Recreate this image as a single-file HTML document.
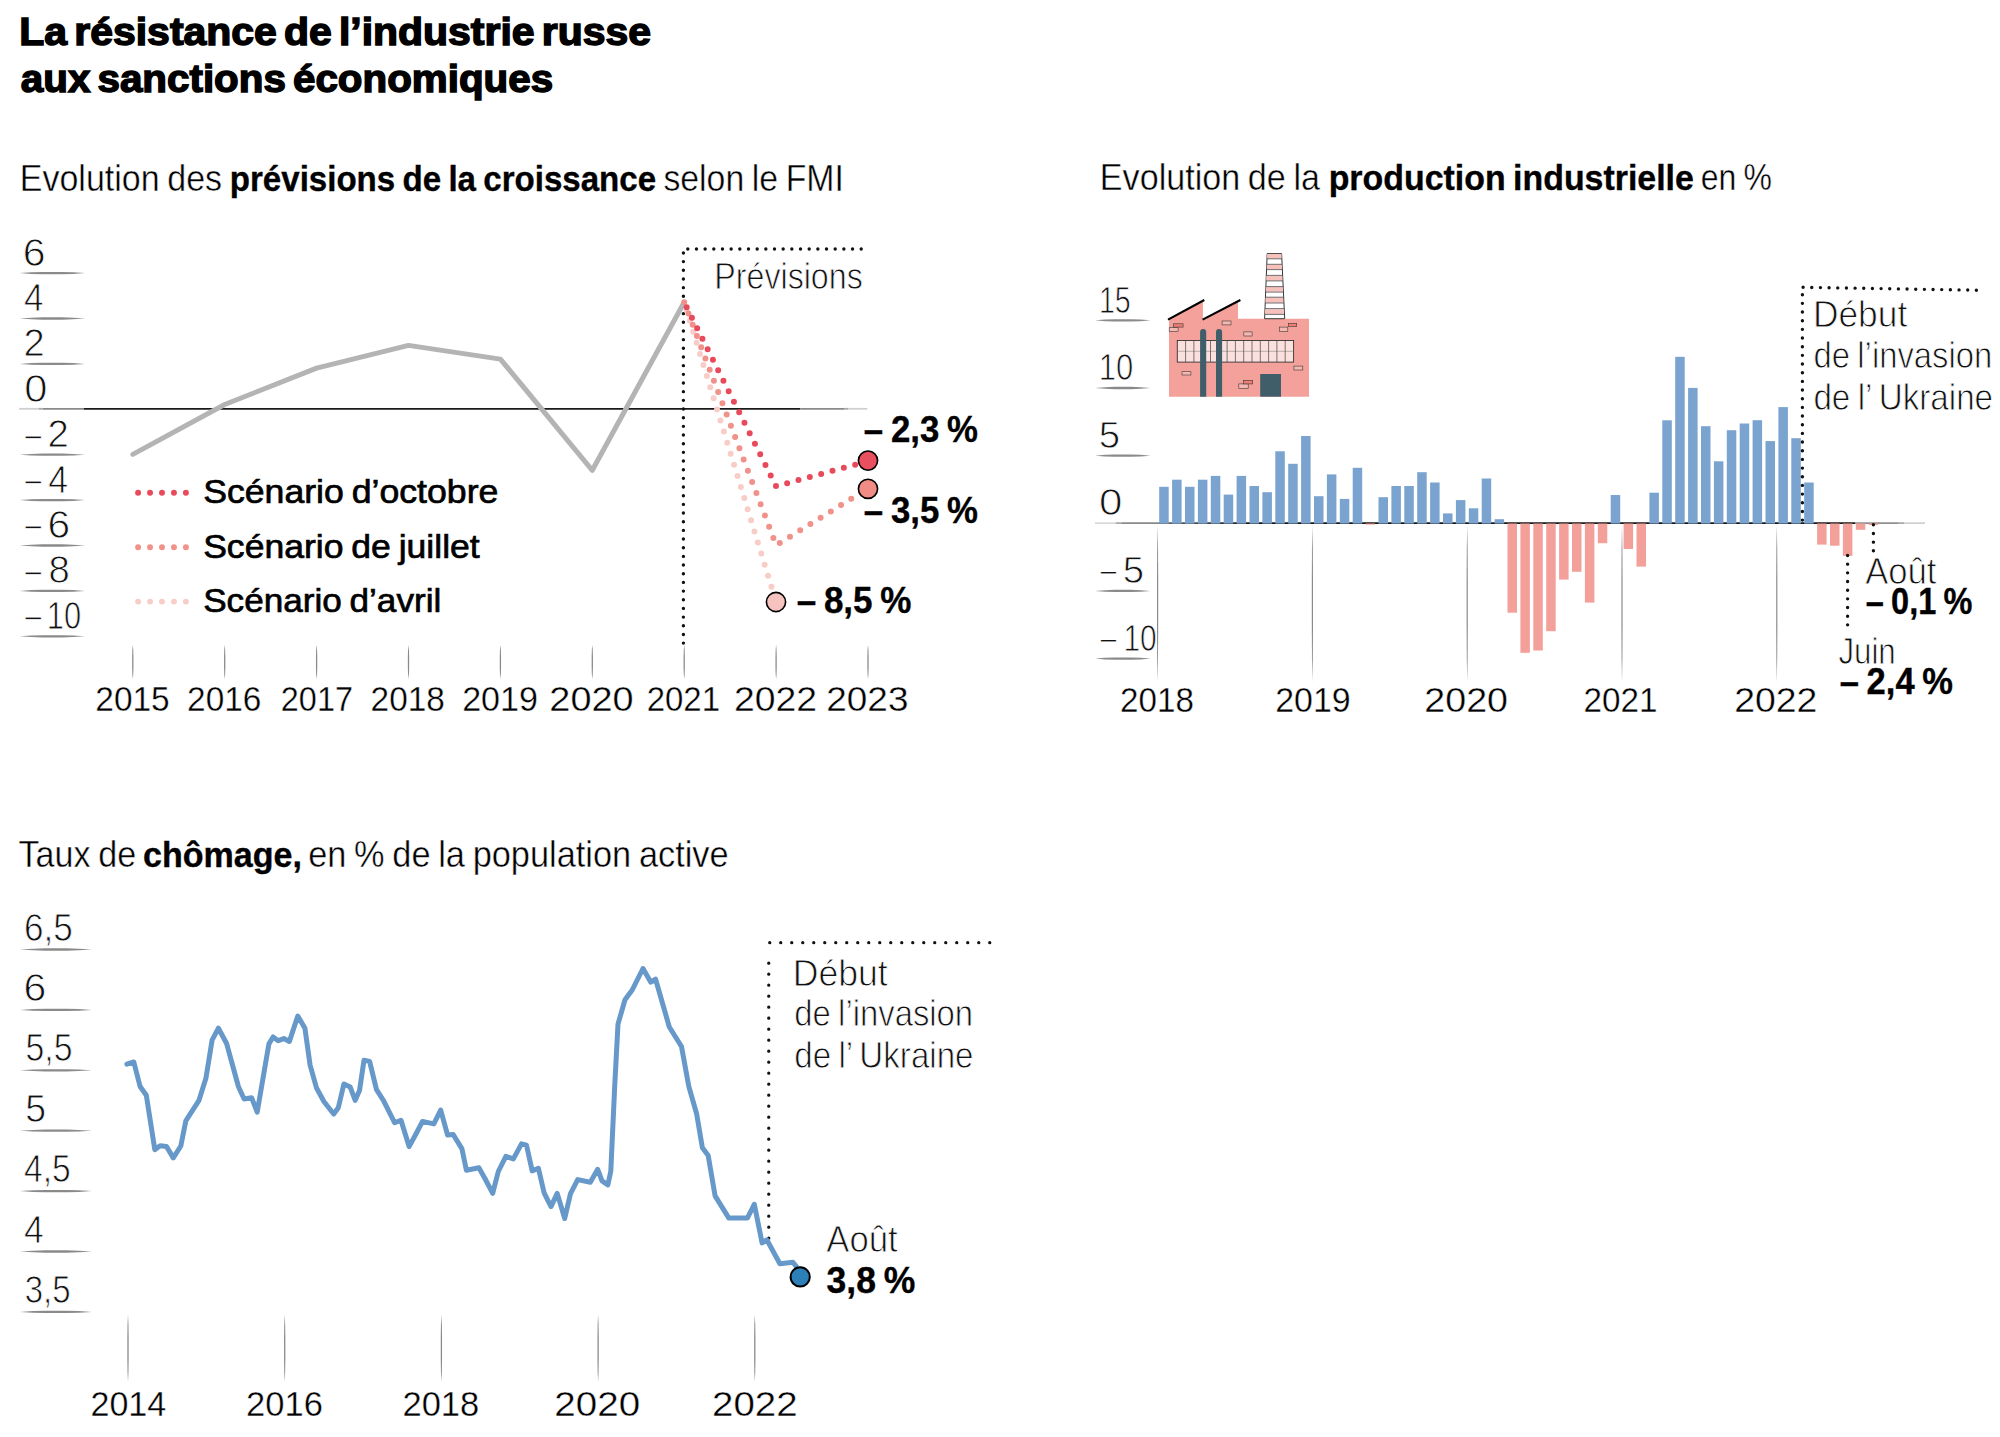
<!DOCTYPE html>
<html lang="fr"><head><meta charset="utf-8"><title>La résistance de l’industrie russe aux sanctions économiques</title>
<style>html,body{margin:0;padding:0;background:#fff;overflow:hidden;}svg{display:block;}text{font-kerning:normal;}</style></head>
<body><svg width="2000" height="1437" viewBox="0 0 2000 1437">
<rect width="2000" height="1437" fill="#fff"/>
<defs>
<linearGradient id="zg2" gradientUnits="userSpaceOnUse" x1="1159" y1="0" x2="1250" y2="0"><stop offset="0" stop-color="#6a6a6a"/><stop offset="1" stop-color="#1a1a1a"/></linearGradient>
<linearGradient id="z1" gradientUnits="userSpaceOnUse" x1="19" y1="0" x2="868" y2="0">
<stop offset="0" stop-color="#bbb"/><stop offset="0.03" stop-color="#999"/><stop offset="0.06" stop-color="#333"/><stop offset="0.1" stop-color="#111"/>
<stop offset="0.88" stop-color="#111"/><stop offset="0.93" stop-color="#666"/><stop offset="1" stop-color="#ccc"/></linearGradient>
<linearGradient id="z2" gradientUnits="userSpaceOnUse" x1="1095" y1="0" x2="1926" y2="0">
<stop offset="0" stop-color="#bbb"/><stop offset="0.05" stop-color="#888"/><stop offset="0.08" stop-color="#333"/><stop offset="0.1" stop-color="#111"/>
<stop offset="0.86" stop-color="#111"/><stop offset="0.92" stop-color="#777"/><stop offset="1" stop-color="#ccc"/></linearGradient>
</defs>
<path d="M19.5,273.10 L31.3,272.30 L42.4,271.95 L62.1,271.95 L73.2,272.30 L85.0,273.10 L73.2,273.91 L62.1,274.25 L42.4,274.25 L31.3,273.91 Z" fill="#8a8a8a"/>
<path d="M19.5,318.50 L31.3,317.69 L42.4,317.35 L62.1,317.35 L73.2,317.69 L85.0,318.50 L73.2,319.31 L62.1,319.65 L42.4,319.65 L31.3,319.31 Z" fill="#8a8a8a"/>
<path d="M19.5,363.90 L31.3,363.10 L42.4,362.75 L62.1,362.75 L73.2,363.10 L85.0,363.90 L73.2,364.71 L62.1,365.05 L42.4,365.05 L31.3,364.71 Z" fill="#8a8a8a"/>
<path d="M19.5,454.70 L31.3,453.89 L42.4,453.55 L62.1,453.55 L73.2,453.89 L85.0,454.70 L73.2,455.50 L62.1,455.85 L42.4,455.85 L31.3,455.50 Z" fill="#8a8a8a"/>
<path d="M19.5,500.10 L31.3,499.30 L42.4,498.95 L62.1,498.95 L73.2,499.30 L85.0,500.10 L73.2,500.91 L62.1,501.25 L42.4,501.25 L31.3,500.91 Z" fill="#8a8a8a"/>
<path d="M19.5,545.50 L31.3,544.70 L42.4,544.35 L62.1,544.35 L73.2,544.70 L85.0,545.50 L73.2,546.30 L62.1,546.65 L42.4,546.65 L31.3,546.30 Z" fill="#8a8a8a"/>
<path d="M19.5,590.90 L31.3,590.10 L42.4,589.75 L62.1,589.75 L73.2,590.10 L85.0,590.90 L73.2,591.70 L62.1,592.05 L42.4,592.05 L31.3,591.70 Z" fill="#8a8a8a"/>
<path d="M19.5,636.30 L31.3,635.50 L42.4,635.15 L62.1,635.15 L73.2,635.50 L85.0,636.30 L73.2,637.10 L62.1,637.45 L42.4,637.45 L31.3,637.10 Z" fill="#8a8a8a"/>
<line x1="19.2" y1="408.8" x2="39" y2="408.8" stroke="#cfcfcf" stroke-width="1.8"/>
<line x1="39" y1="408.8" x2="42.6" y2="408.8" stroke="#aaa" stroke-width="1.8"/>
<line x1="42.6" y1="408.8" x2="84" y2="408.8" stroke="#8a8a8a" stroke-width="1.8"/>
<line x1="84" y1="408.8" x2="800.2" y2="408.8" stroke="#1a1a1a" stroke-width="1.8"/>
<line x1="800.2" y1="408.8" x2="844" y2="408.8" stroke="#8a8a8a" stroke-width="1.8"/>
<line x1="844" y1="408.8" x2="848" y2="408.8" stroke="#aaa" stroke-width="1.8"/>
<line x1="848" y1="408.8" x2="867.4" y2="408.8" stroke="#d0d0d0" stroke-width="1.8"/>
<path d="M132.80,644.8 L132.34,650.0 L132.15,656.9 L132.15,667.2 L132.34,674.1 L132.80,679.3 L133.26,674.1 L133.45,667.2 L133.45,656.9 L133.26,650.0 Z" fill="#8a8a8a"/>
<path d="M224.70,644.8 L224.25,650.0 L224.05,656.9 L224.05,667.2 L224.25,674.1 L224.70,679.3 L225.16,674.1 L225.35,667.2 L225.35,656.9 L225.16,650.0 Z" fill="#8a8a8a"/>
<path d="M316.60,644.8 L316.15,650.0 L315.95,656.9 L315.95,667.2 L316.15,674.1 L316.60,679.3 L317.06,674.1 L317.25,667.2 L317.25,656.9 L317.06,650.0 Z" fill="#8a8a8a"/>
<path d="M408.50,644.8 L408.05,650.0 L407.85,656.9 L407.85,667.2 L408.05,674.1 L408.50,679.3 L408.96,674.1 L409.15,667.2 L409.15,656.9 L408.96,650.0 Z" fill="#8a8a8a"/>
<path d="M500.40,644.8 L499.95,650.0 L499.75,656.9 L499.75,667.2 L499.95,674.1 L500.40,679.3 L500.86,674.1 L501.05,667.2 L501.05,656.9 L500.86,650.0 Z" fill="#8a8a8a"/>
<path d="M592.30,644.8 L591.84,650.0 L591.65,656.9 L591.65,667.2 L591.84,674.1 L592.30,679.3 L592.75,674.1 L592.95,667.2 L592.95,656.9 L592.75,650.0 Z" fill="#8a8a8a"/>
<path d="M684.20,644.8 L683.75,650.0 L683.55,656.9 L683.55,667.2 L683.75,674.1 L684.20,679.3 L684.66,674.1 L684.85,667.2 L684.85,656.9 L684.66,650.0 Z" fill="#8a8a8a"/>
<path d="M776.10,644.8 L775.65,650.0 L775.45,656.9 L775.45,667.2 L775.65,674.1 L776.10,679.3 L776.56,674.1 L776.75,667.2 L776.75,656.9 L776.56,650.0 Z" fill="#8a8a8a"/>
<path d="M868.00,644.8 L867.54,650.0 L867.35,656.9 L867.35,667.2 L867.54,674.1 L868.00,679.3 L868.46,674.1 L868.65,667.2 L868.65,656.9 L868.46,650.0 Z" fill="#8a8a8a"/>
<path d="M683.40,643.10 L683.40,252.80" fill="none" stroke="#111" stroke-width="3.4" stroke-linecap="round" stroke-dasharray="0 8.67" stroke-dashoffset="0"/>
<path d="M687.80,249.00 L861.60,249.00" fill="none" stroke="#111" stroke-width="3.4" stroke-linecap="round" stroke-dasharray="0 8.67" stroke-dashoffset="0"/>
<polyline points="132.8,454.4 224.7,404.5 316.6,368.1 408.5,345.4 500.4,359.1 592.3,470.3 684.2,302.3" fill="none" stroke="#b4b4b4" stroke-width="5" stroke-linejoin="round" stroke-linecap="round"/>
<path d="M684.20,302.31 L776.10,601.95" fill="none" stroke="#f8cdc8" stroke-width="6.0" stroke-linecap="round" stroke-dasharray="0 11.6" stroke-dashoffset="-7.6"/>
<path d="M684.20,302.31 L776.10,545.20 L868.00,488.45" fill="none" stroke="#f0918a" stroke-width="6.0" stroke-linecap="round" stroke-dasharray="0 12.0" stroke-dashoffset="0"/>
<path d="M684.20,302.31 L776.10,486.18 L868.00,461.21" fill="none" stroke="#e84a5c" stroke-width="6.0" stroke-linecap="round" stroke-dasharray="0 11.75" stroke-dashoffset="-5.5"/>
<circle cx="868" cy="460.6" r="9.6" fill="#e8505f" stroke="#000" stroke-width="1.6"/>
<circle cx="868" cy="488.8" r="9.6" fill="#f08c84" stroke="#000" stroke-width="1.6"/>
<circle cx="776" cy="602" r="9.6" fill="#f7c3be" stroke="#000" stroke-width="1.6"/>
<circle cx="138.10" cy="492.8" r="2.95" fill="#e84a5c"/>
<circle cx="150.05" cy="492.8" r="2.95" fill="#e84a5c"/>
<circle cx="162.00" cy="492.8" r="2.95" fill="#e84a5c"/>
<circle cx="173.95" cy="492.8" r="2.95" fill="#e84a5c"/>
<circle cx="185.90" cy="492.8" r="2.95" fill="#e84a5c"/>
<circle cx="138.10" cy="547.2" r="2.95" fill="#f0918a"/>
<circle cx="150.05" cy="547.2" r="2.95" fill="#f0918a"/>
<circle cx="162.00" cy="547.2" r="2.95" fill="#f0918a"/>
<circle cx="173.95" cy="547.2" r="2.95" fill="#f0918a"/>
<circle cx="185.90" cy="547.2" r="2.95" fill="#f0918a"/>
<circle cx="138.10" cy="601.6" r="2.95" fill="#f8cdc8"/>
<circle cx="150.05" cy="601.6" r="2.95" fill="#f8cdc8"/>
<circle cx="162.00" cy="601.6" r="2.95" fill="#f8cdc8"/>
<circle cx="173.95" cy="601.6" r="2.95" fill="#f8cdc8"/>
<circle cx="185.90" cy="601.6" r="2.95" fill="#f8cdc8"/>
<path d="M1095.0,320.35 L1105.0,319.54 L1114.5,319.20 L1131.1,319.20 L1140.6,319.54 L1150.6,320.35 L1140.6,321.15 L1131.1,321.50 L1114.5,321.50 L1105.0,321.15 Z" fill="#8a8a8a"/>
<path d="M1095.0,388.00 L1105.0,387.19 L1114.5,386.85 L1131.1,386.85 L1140.6,387.19 L1150.6,388.00 L1140.6,388.81 L1131.1,389.15 L1114.5,389.15 L1105.0,388.81 Z" fill="#8a8a8a"/>
<path d="M1095.0,455.65 L1105.0,454.84 L1114.5,454.50 L1131.1,454.50 L1140.6,454.84 L1150.6,455.65 L1140.6,456.45 L1131.1,456.80 L1114.5,456.80 L1105.0,456.45 Z" fill="#8a8a8a"/>
<path d="M1095.0,590.95 L1105.0,590.14 L1114.5,589.80 L1131.1,589.80 L1140.6,590.14 L1150.6,590.95 L1140.6,591.75 L1131.1,592.10 L1114.5,592.10 L1105.0,591.75 Z" fill="#8a8a8a"/>
<path d="M1095.0,658.60 L1105.0,657.79 L1114.5,657.45 L1131.1,657.45 L1140.6,657.79 L1150.6,658.60 L1140.6,659.40 L1131.1,659.75 L1114.5,659.75 L1105.0,659.40 Z" fill="#8a8a8a"/>
<path d="M1157.60,525.0 L1157.18,548.5 L1157.00,580.0 L1157.00,627.0 L1157.18,658.5 L1157.60,682.0 L1158.02,658.5 L1158.20,627.0 L1158.20,580.0 L1158.02,548.5 Z" fill="#8a8a8a"/>
<path d="M1312.40,525.0 L1311.98,548.5 L1311.80,580.0 L1311.80,627.0 L1311.98,658.5 L1312.40,682.0 L1312.82,658.5 L1313.00,627.0 L1313.00,580.0 L1312.82,548.5 Z" fill="#8a8a8a"/>
<path d="M1467.20,525.0 L1466.78,548.5 L1466.60,580.0 L1466.60,627.0 L1466.78,658.5 L1467.20,682.0 L1467.62,658.5 L1467.80,627.0 L1467.80,580.0 L1467.62,548.5 Z" fill="#8a8a8a"/>
<path d="M1622.00,525.0 L1621.58,548.5 L1621.40,580.0 L1621.40,627.0 L1621.58,658.5 L1622.00,682.0 L1622.42,658.5 L1622.60,627.0 L1622.60,580.0 L1622.42,548.5 Z" fill="#8a8a8a"/>
<path d="M1776.80,525.0 L1776.38,548.5 L1776.20,580.0 L1776.20,627.0 L1776.38,658.5 L1776.80,682.0 L1777.22,658.5 L1777.40,627.0 L1777.40,580.0 L1777.22,548.5 Z" fill="#8a8a8a"/>
<line x1="1095" y1="523.1" x2="1115.7" y2="523.1" stroke="#c8c8c8" stroke-width="1.2"/>
<line x1="1115.7" y1="523.1" x2="1122" y2="523.1" stroke="#aaa" stroke-width="1.8"/>
<line x1="1122" y1="523.1" x2="1159" y2="523.1" stroke="#8a8a8a" stroke-width="1.8"/>
<line x1="1159" y1="523.1" x2="1250" y2="523.1" stroke="url(#zg2)" stroke-width="1.8"/>
<line x1="1250" y1="523.1" x2="1855.5" y2="523.1" stroke="#1a1a1a" stroke-width="1.8"/>
<line x1="1855.5" y1="523.1" x2="1898" y2="523.1" stroke="#909090" stroke-width="1.8"/>
<line x1="1898" y1="523.1" x2="1904" y2="523.1" stroke="#aaa" stroke-width="1.8"/>
<line x1="1904" y1="523.1" x2="1925" y2="523.1" stroke="#c4c4c4" stroke-width="1.4"/>
<rect x="1159.20" y="486.80" width="9.5" height="36.80" fill="#7ba3cf"/>
<rect x="1172.10" y="479.70" width="9.5" height="43.90" fill="#7ba3cf"/>
<rect x="1185.00" y="486.80" width="9.5" height="36.80" fill="#7ba3cf"/>
<rect x="1197.90" y="479.70" width="9.5" height="43.90" fill="#7ba3cf"/>
<rect x="1210.80" y="475.90" width="9.5" height="47.70" fill="#7ba3cf"/>
<rect x="1223.70" y="494.60" width="9.5" height="29.00" fill="#7ba3cf"/>
<rect x="1236.60" y="475.90" width="9.5" height="47.70" fill="#7ba3cf"/>
<rect x="1249.50" y="486.00" width="9.5" height="37.60" fill="#7ba3cf"/>
<rect x="1262.40" y="492.20" width="9.5" height="31.40" fill="#7ba3cf"/>
<rect x="1275.30" y="451.30" width="9.5" height="72.30" fill="#7ba3cf"/>
<rect x="1288.20" y="463.80" width="9.5" height="59.80" fill="#7ba3cf"/>
<rect x="1301.10" y="436.00" width="9.5" height="87.60" fill="#7ba3cf"/>
<rect x="1314.00" y="496.20" width="9.5" height="27.40" fill="#7ba3cf"/>
<rect x="1326.90" y="474.40" width="9.5" height="49.20" fill="#7ba3cf"/>
<rect x="1339.80" y="498.90" width="9.5" height="24.70" fill="#7ba3cf"/>
<rect x="1352.70" y="467.80" width="9.5" height="55.80" fill="#7ba3cf"/>
<rect x="1365.60" y="523.50" width="9.5" height="1.10" fill="#f4a09a"/>
<rect x="1378.50" y="497.20" width="9.5" height="26.40" fill="#7ba3cf"/>
<rect x="1391.40" y="486.00" width="9.5" height="37.60" fill="#7ba3cf"/>
<rect x="1404.30" y="486.00" width="9.5" height="37.60" fill="#7ba3cf"/>
<rect x="1417.20" y="472.20" width="9.5" height="51.40" fill="#7ba3cf"/>
<rect x="1430.10" y="482.50" width="9.5" height="41.10" fill="#7ba3cf"/>
<rect x="1443.00" y="513.40" width="9.5" height="10.20" fill="#7ba3cf"/>
<rect x="1455.90" y="500.10" width="9.5" height="23.50" fill="#7ba3cf"/>
<rect x="1468.80" y="508.30" width="9.5" height="15.30" fill="#7ba3cf"/>
<rect x="1481.70" y="478.50" width="9.5" height="45.10" fill="#7ba3cf"/>
<rect x="1494.60" y="519.20" width="9.5" height="4.40" fill="#7ba3cf"/>
<rect x="1507.50" y="523.50" width="9.5" height="89.20" fill="#f4a09a"/>
<rect x="1520.40" y="523.50" width="9.5" height="129.30" fill="#f4a09a"/>
<rect x="1533.30" y="523.50" width="9.5" height="127.00" fill="#f4a09a"/>
<rect x="1546.20" y="523.50" width="9.5" height="107.70" fill="#f4a09a"/>
<rect x="1559.10" y="523.50" width="9.5" height="56.10" fill="#f4a09a"/>
<rect x="1572.00" y="523.50" width="9.5" height="48.30" fill="#f4a09a"/>
<rect x="1584.90" y="523.50" width="9.5" height="79.10" fill="#f4a09a"/>
<rect x="1597.80" y="523.50" width="9.5" height="19.70" fill="#f4a09a"/>
<rect x="1610.70" y="495.00" width="9.5" height="28.60" fill="#7ba3cf"/>
<rect x="1623.60" y="523.50" width="9.5" height="25.50" fill="#f4a09a"/>
<rect x="1636.50" y="523.50" width="9.5" height="43.10" fill="#f4a09a"/>
<rect x="1649.40" y="492.70" width="9.5" height="30.90" fill="#7ba3cf"/>
<rect x="1662.30" y="420.30" width="9.5" height="103.30" fill="#7ba3cf"/>
<rect x="1675.20" y="356.80" width="9.5" height="166.80" fill="#7ba3cf"/>
<rect x="1688.10" y="387.90" width="9.5" height="135.70" fill="#7ba3cf"/>
<rect x="1701.00" y="426.20" width="9.5" height="97.40" fill="#7ba3cf"/>
<rect x="1713.90" y="461.30" width="9.5" height="62.30" fill="#7ba3cf"/>
<rect x="1726.80" y="430.20" width="9.5" height="93.40" fill="#7ba3cf"/>
<rect x="1739.70" y="423.50" width="9.5" height="100.10" fill="#7ba3cf"/>
<rect x="1752.60" y="420.20" width="9.5" height="103.40" fill="#7ba3cf"/>
<rect x="1765.50" y="441.10" width="9.5" height="82.50" fill="#7ba3cf"/>
<rect x="1778.40" y="407.10" width="9.5" height="116.50" fill="#7ba3cf"/>
<rect x="1791.30" y="438.20" width="9.5" height="85.40" fill="#7ba3cf"/>
<rect x="1804.20" y="482.50" width="9.5" height="41.10" fill="#7ba3cf"/>
<rect x="1817.10" y="523.50" width="9.5" height="21.10" fill="#f4a09a"/>
<rect x="1830.00" y="523.50" width="9.5" height="22.20" fill="#f4a09a"/>
<rect x="1842.90" y="523.50" width="9.5" height="32.40" fill="#f4a09a"/>
<rect x="1855.80" y="523.50" width="9.5" height="6.30" fill="#f4a09a"/>
<rect x="1868.70" y="523.50" width="9.5" height="1.50" fill="#f4a09a"/>
<path d="M1802.40,520.10 L1802.40,294.00" fill="none" stroke="#111" stroke-width="3.4" stroke-linecap="round" stroke-dasharray="0 8.67" stroke-dashoffset="0"/>
<path d="M1803.10,287.30 L1976.40,290.20" fill="none" stroke="#111" stroke-width="3.4" stroke-linecap="round" stroke-dasharray="0 8.665" stroke-dashoffset="0"/>
<path d="M1847.60,555.50 L1847.60,625.00" fill="none" stroke="#111" stroke-width="3.4" stroke-linecap="round" stroke-dasharray="0 8.67" stroke-dashoffset="0"/>
<path d="M1873.40,524.80 L1873.40,552.00" fill="none" stroke="#111" stroke-width="3.4" stroke-linecap="round" stroke-dasharray="0 8.67" stroke-dashoffset="0"/>
<g id="factory">
<path d="M1169,396.7 L1169,319.6 L1202.9,300.6 L1202.9,319.8 L1238,300.6 L1238,318.7 L1309,318.7 L1309,396.7 Z" fill="#f3a19a"/>
<path d="M1264.6,318.7 L1267.2,253.6 L1281.6,253.6 L1284.7,318.7 Z" fill="#fff" stroke="#222" stroke-width="0.9"/>
<g fill="#f6c0bb">
<rect x="1267.2" y="254" width="14.3" height="4.6"/><rect x="1266.8" y="264.6" width="15.1" height="4.6"/>
<rect x="1266.3" y="275.8" width="16" height="4.8"/><rect x="1265.9" y="286.9" width="16.8" height="4.8"/>
<rect x="1265.5" y="297.5" width="17.6" height="5.2"/><rect x="1265.1" y="309.2" width="18.5" height="4.8"/>
</g>
<g stroke="#333" stroke-width="0.7">
<line x1="1267" y1="258.8" x2="1281.8" y2="258.8"/><line x1="1266.9" y1="264.3" x2="1282" y2="264.3"/>
<line x1="1266.7" y1="269.6" x2="1282.3" y2="269.6"/><line x1="1266.4" y1="275.4" x2="1282.6" y2="275.4"/>
<line x1="1266.1" y1="280.9" x2="1282.9" y2="280.9"/><line x1="1265.9" y1="286.6" x2="1283.1" y2="286.6"/>
<line x1="1265.7" y1="292.1" x2="1283.4" y2="292.1"/><line x1="1265.5" y1="297.2" x2="1283.6" y2="297.2"/>
<line x1="1265.3" y1="303" x2="1283.9" y2="303"/><line x1="1265.1" y1="308.6" x2="1284.2" y2="308.6"/>
<line x1="1264.9" y1="314.4" x2="1284.4" y2="314.4"/>
</g>
<line x1="1168" y1="319.6" x2="1204.3" y2="300" stroke="#000" stroke-width="2.1"/>
<line x1="1202.6" y1="319.6" x2="1240.4" y2="300" stroke="#000" stroke-width="2.1"/>
<rect x="1177.3" y="340.5" width="116.3" height="21.6" fill="#fbe1dd" stroke="#333" stroke-width="0.9"/>
<line x1="1177.3" y1="351.3" x2="1293.6" y2="351.3" stroke="#777" stroke-width="0.5"/>
<g stroke="#444" stroke-width="0.7"><line x1="1185.6" y1="340.5" x2="1185.6" y2="362.1"/><line x1="1193.9" y1="340.5" x2="1193.9" y2="362.1"/><line x1="1202.2" y1="340.5" x2="1202.2" y2="362.1"/><line x1="1210.5" y1="340.5" x2="1210.5" y2="362.1"/><line x1="1218.8" y1="340.5" x2="1218.8" y2="362.1"/><line x1="1227.1" y1="340.5" x2="1227.1" y2="362.1"/><line x1="1235.4" y1="340.5" x2="1235.4" y2="362.1"/><line x1="1243.7" y1="340.5" x2="1243.7" y2="362.1"/><line x1="1252.0" y1="340.5" x2="1252.0" y2="362.1"/><line x1="1260.3" y1="340.5" x2="1260.3" y2="362.1"/><line x1="1268.6" y1="340.5" x2="1268.6" y2="362.1"/><line x1="1276.9" y1="340.5" x2="1276.9" y2="362.1"/><line x1="1285.2" y1="340.5" x2="1285.2" y2="362.1"/></g>
<path d="M1200.1,396.7 L1200.1,332 A3.05,3.05 0 0 1 1206.2,332 L1206.2,396.7 Z" fill="#3f5e6a"/>
<path d="M1216,396.7 L1216,332 A3.05,3.05 0 0 1 1222.1,332 L1222.1,396.7 Z" fill="#3f5e6a"/>
<rect x="1260.2" y="374" width="20.8" height="22.7" fill="#3f5e6a"/>
<g stroke="#3a3a3a" stroke-width="0.6"><rect x="1169.2" y="327.7" width="8.9" height="3.9" fill="#f5b7b0"/><rect x="1173.7" y="323.8" width="9.4" height="3.3" fill="#ee7d75"/><rect x="1222.1" y="321.0" width="8.9" height="3.9" fill="#f5b7b0"/><rect x="1243.8" y="331.9" width="8.3" height="4.1" fill="#f5b7b0"/><rect x="1279.5" y="327.1" width="8.3" height="4.5" fill="#f5b7b0"/><rect x="1288.4" y="323.3" width="8.3" height="3.2" fill="#ee7d75"/><rect x="1182.0" y="371.7" width="8.9" height="3.3" fill="#f5b7b0"/><rect x="1293.9" y="366.1" width="8.9" height="3.9" fill="#f5b7b0"/><rect x="1238.8" y="383.9" width="9.4" height="4.5" fill="#f5b7b0"/><rect x="1243.3" y="380.3" width="9.4" height="3.6" fill="#ee7d75"/></g>
</g>
<path d="M19.9,949.50 L32.9,948.70 L45.1,948.35 L66.7,948.35 L78.9,948.70 L91.9,949.50 L78.9,950.30 L66.7,950.65 L45.1,950.65 L32.9,950.30 Z" fill="#8a8a8a"/>
<path d="M19.9,1009.90 L32.9,1009.10 L45.1,1008.75 L66.7,1008.75 L78.9,1009.10 L91.9,1009.90 L78.9,1010.70 L66.7,1011.05 L45.1,1011.05 L32.9,1010.70 Z" fill="#8a8a8a"/>
<path d="M19.9,1070.30 L32.9,1069.49 L45.1,1069.15 L66.7,1069.15 L78.9,1069.49 L91.9,1070.30 L78.9,1071.11 L66.7,1071.45 L45.1,1071.45 L32.9,1071.11 Z" fill="#8a8a8a"/>
<path d="M19.9,1130.70 L32.9,1129.89 L45.1,1129.55 L66.7,1129.55 L78.9,1129.89 L91.9,1130.70 L78.9,1131.51 L66.7,1131.85 L45.1,1131.85 L32.9,1131.51 Z" fill="#8a8a8a"/>
<path d="M19.9,1191.10 L32.9,1190.29 L45.1,1189.95 L66.7,1189.95 L78.9,1190.29 L91.9,1191.10 L78.9,1191.90 L66.7,1192.25 L45.1,1192.25 L32.9,1191.90 Z" fill="#8a8a8a"/>
<path d="M19.9,1251.50 L32.9,1250.69 L45.1,1250.35 L66.7,1250.35 L78.9,1250.69 L91.9,1251.50 L78.9,1252.31 L66.7,1252.65 L45.1,1252.65 L32.9,1252.31 Z" fill="#8a8a8a"/>
<path d="M19.9,1311.90 L32.9,1311.10 L45.1,1310.75 L66.7,1310.75 L78.9,1311.10 L91.9,1311.90 L78.9,1312.71 L66.7,1313.05 L45.1,1313.05 L32.9,1312.71 Z" fill="#8a8a8a"/>
<path d="M128.00,1314.4 L127.55,1324.5 L127.35,1338.1 L127.35,1358.3 L127.55,1371.9 L128.00,1382.0 L128.46,1371.9 L128.65,1358.3 L128.65,1338.1 L128.46,1324.5 Z" fill="#8a8a8a"/>
<path d="M284.70,1314.4 L284.25,1324.5 L284.05,1338.1 L284.05,1358.3 L284.25,1371.9 L284.70,1382.0 L285.15,1371.9 L285.35,1358.3 L285.35,1338.1 L285.15,1324.5 Z" fill="#8a8a8a"/>
<path d="M441.40,1314.4 L440.94,1324.5 L440.75,1338.1 L440.75,1358.3 L440.94,1371.9 L441.40,1382.0 L441.85,1371.9 L442.05,1358.3 L442.05,1338.1 L441.85,1324.5 Z" fill="#8a8a8a"/>
<path d="M598.10,1314.4 L597.64,1324.5 L597.45,1338.1 L597.45,1358.3 L597.64,1371.9 L598.10,1382.0 L598.55,1371.9 L598.75,1358.3 L598.75,1338.1 L598.55,1324.5 Z" fill="#8a8a8a"/>
<path d="M754.80,1314.4 L754.34,1324.5 L754.15,1338.1 L754.15,1358.3 L754.34,1371.9 L754.80,1382.0 L755.25,1371.9 L755.45,1358.3 L755.45,1338.1 L755.25,1324.5 Z" fill="#8a8a8a"/>
<path d="M768.75,1238.20 L768.75,952.20" fill="none" stroke="#111" stroke-width="3.3" stroke-linecap="round" stroke-dasharray="0 11.0" stroke-dashoffset="0"/>
<path d="M769.75,942.70 L1000.75,942.70" fill="none" stroke="#111" stroke-width="3.3" stroke-linecap="round" stroke-dasharray="0 11.0" stroke-dashoffset="0"/>
<polyline points="126.9,1064.2 133.8,1062.0 140.1,1086.5 146.3,1095.2 154.8,1149.7 160.1,1145.8 166.4,1146.4 173.3,1157.9 180.8,1146.0 185.8,1120.9 199.0,1100.3 205.9,1078.3 212.1,1040.1 218.4,1028.2 226.5,1043.2 238.4,1086.5 244.1,1099.0 251.6,1097.7 257.2,1112.2 268.9,1043.9 273.1,1037.0 278.2,1040.7 283.8,1038.6 289.4,1041.4 297.8,1016.0 304.9,1028.2 310.1,1065.2 316.4,1087.7 323.9,1101.5 333.7,1114.0 338.3,1107.8 343.9,1084.0 350.2,1087.1 355.2,1100.3 359.6,1090.2 364.0,1060.2 369.6,1061.4 376.5,1089.6 383.4,1100.3 394.7,1122.8 401.0,1120.3 409.1,1146.6 416.6,1132.8 422.5,1121.4 433.8,1123.9 440.7,1110.1 447.6,1135.1 453.2,1134.5 462.0,1148.9 466.4,1170.2 478.9,1167.7 485.2,1179.0 492.7,1193.4 498.3,1171.5 505.9,1156.4 513.4,1158.9 521.5,1143.9 526.5,1145.2 532.2,1170.9 538.4,1168.3 544.1,1192.8 551.0,1206.6 557.2,1193.4 564.7,1218.5 570.5,1193.6 577.7,1179.6 590.3,1182.3 597.7,1169.3 602.0,1180.9 607.9,1184.8 610.8,1171.2 614.7,1086.4 618.0,1024.1 625.0,999.7 632.2,990.0 643.0,968.5 650.8,982.2 655.6,979.2 669.3,1027.0 681.5,1046.5 688.8,1086.4 696.6,1113.7 702.4,1147.8 708.2,1155.6 715.1,1195.9 728.7,1217.9 747.5,1217.9 754.3,1204.3 762.1,1242.9 766.8,1239.8 779.9,1263.8 792.9,1262.2 796.6,1266.9 800.2,1276.9" fill="none" stroke="#6698c9" stroke-width="5" stroke-linejoin="round" stroke-linecap="round"/>
<circle cx="800.2" cy="1276.9" r="9.6" fill="#2d7fb8" stroke="#000" stroke-width="2"/>
<text x="19.33" y="44.80" textLength="631.62" lengthAdjust="spacingAndGlyphs" font-family="'Liberation Sans', Arial, sans-serif" font-size="39.6" font-weight="700" fill="#000" stroke="#000" stroke-width="1.5" word-spacing="-4">La résistance de l’industrie russe</text>
<text x="20.80" y="92.30" textLength="532.28" lengthAdjust="spacingAndGlyphs" font-family="'Liberation Sans', Arial, sans-serif" font-size="39.6" font-weight="700" fill="#000" stroke="#000" stroke-width="1.5" word-spacing="-4">aux sanctions économiques</text>
<text x="19.78" y="190.50" textLength="202.27" lengthAdjust="spacingAndGlyphs" font-family="'Liberation Sans', Arial, sans-serif" font-size="37.5" fill="#000" stroke="#fff" stroke-width="0.45" word-spacing="-2">Evolution des</text>
<text x="229.81" y="190.50" textLength="426.30" lengthAdjust="spacingAndGlyphs" font-family="'Liberation Sans', Arial, sans-serif" font-size="35" font-weight="700" fill="#000" stroke="#000" stroke-width="0.35" word-spacing="-2">prévisions de la croissance</text>
<text x="663.40" y="190.50" textLength="180.43" lengthAdjust="spacingAndGlyphs" font-family="'Liberation Sans', Arial, sans-serif" font-size="37.5" fill="#000" stroke="#fff" stroke-width="0.45" word-spacing="-2">selon le FMI</text>
<text x="1099.87" y="189.60" textLength="220.14" lengthAdjust="spacingAndGlyphs" font-family="'Liberation Sans', Arial, sans-serif" font-size="37.5" fill="#000" stroke="#fff" stroke-width="0.45" word-spacing="-2">Evolution de la</text>
<text x="1328.66" y="189.60" textLength="365.19" lengthAdjust="spacingAndGlyphs" font-family="'Liberation Sans', Arial, sans-serif" font-size="35" font-weight="700" fill="#000" stroke="#000" stroke-width="0.35" word-spacing="-2">production industrielle</text>
<text x="1700.80" y="189.60" textLength="71.17" lengthAdjust="spacingAndGlyphs" font-family="'Liberation Sans', Arial, sans-serif" font-size="37.5" fill="#000" stroke="#fff" stroke-width="0.45" word-spacing="-2">en %</text>
<text x="18.49" y="866.60" textLength="117.64" lengthAdjust="spacingAndGlyphs" font-family="'Liberation Sans', Arial, sans-serif" font-size="37.5" fill="#000" stroke="#fff" stroke-width="0.45" word-spacing="-2">Taux de</text>
<text x="143.03" y="866.60" textLength="159.00" lengthAdjust="spacingAndGlyphs" font-family="'Liberation Sans', Arial, sans-serif" font-size="35" font-weight="700" fill="#000" stroke="#000" stroke-width="0.35">chômage,</text>
<text x="308.17" y="866.60" textLength="420.45" lengthAdjust="spacingAndGlyphs" font-family="'Liberation Sans', Arial, sans-serif" font-size="37.5" fill="#000" stroke="#fff" stroke-width="0.45" word-spacing="-2">en % de la population active</text>
<text x="22.69" y="265.50" textLength="22.78" lengthAdjust="spacingAndGlyphs" font-family="'Liberation Sans', Arial, sans-serif" font-size="38.3" fill="#111" stroke="#fff" stroke-width="0.85">6</text>
<text x="24.07" y="310.90" textLength="19.54" lengthAdjust="spacingAndGlyphs" font-family="'Liberation Sans', Arial, sans-serif" font-size="38.3" fill="#111" stroke="#fff" stroke-width="0.85">4</text>
<text x="23.52" y="356.30" textLength="21.18" lengthAdjust="spacingAndGlyphs" font-family="'Liberation Sans', Arial, sans-serif" font-size="38.3" fill="#111" stroke="#fff" stroke-width="0.85">2</text>
<text x="24.32" y="401.70" textLength="23.19" lengthAdjust="spacingAndGlyphs" font-family="'Liberation Sans', Arial, sans-serif" font-size="38.3" fill="#111" stroke="#fff" stroke-width="0.85">0</text>
<text x="23.61" y="449.60" textLength="19.35" lengthAdjust="spacingAndGlyphs" font-family="'Liberation Sans', Arial, sans-serif" font-size="38.3" fill="#111" stroke="#fff" stroke-width="0.85">−</text>
<text x="47.40" y="447.10" textLength="21.31" lengthAdjust="spacingAndGlyphs" font-family="'Liberation Sans', Arial, sans-serif" font-size="38.3" fill="#111" stroke="#fff" stroke-width="0.85">2</text>
<text x="23.61" y="495.00" textLength="19.35" lengthAdjust="spacingAndGlyphs" font-family="'Liberation Sans', Arial, sans-serif" font-size="38.3" fill="#111" stroke="#fff" stroke-width="0.85">−</text>
<text x="48.13" y="492.50" textLength="19.89" lengthAdjust="spacingAndGlyphs" font-family="'Liberation Sans', Arial, sans-serif" font-size="38.3" fill="#111" stroke="#fff" stroke-width="0.85">4</text>
<text x="23.61" y="540.40" textLength="19.35" lengthAdjust="spacingAndGlyphs" font-family="'Liberation Sans', Arial, sans-serif" font-size="38.3" fill="#111" stroke="#fff" stroke-width="0.85">−</text>
<text x="47.41" y="537.90" textLength="22.64" lengthAdjust="spacingAndGlyphs" font-family="'Liberation Sans', Arial, sans-serif" font-size="38.3" fill="#111" stroke="#fff" stroke-width="0.85">6</text>
<text x="23.61" y="585.80" textLength="19.35" lengthAdjust="spacingAndGlyphs" font-family="'Liberation Sans', Arial, sans-serif" font-size="38.3" fill="#111" stroke="#fff" stroke-width="0.85">−</text>
<text x="48.60" y="583.30" textLength="21.31" lengthAdjust="spacingAndGlyphs" font-family="'Liberation Sans', Arial, sans-serif" font-size="38.3" fill="#111" stroke="#fff" stroke-width="0.85">8</text>
<text x="23.61" y="631.20" textLength="19.35" lengthAdjust="spacingAndGlyphs" font-family="'Liberation Sans', Arial, sans-serif" font-size="38.3" fill="#111" stroke="#fff" stroke-width="0.85">−</text>
<text x="46.78" y="628.70" textLength="34.32" lengthAdjust="spacingAndGlyphs" font-family="'Liberation Sans', Arial, sans-serif" font-size="38.3" fill="#111" stroke="#fff" stroke-width="0.85">10</text>
<text x="95.30" y="711.40" textLength="74.42" lengthAdjust="spacingAndGlyphs" font-family="'Liberation Sans', Arial, sans-serif" font-size="35.2" fill="#000" stroke="#fff" stroke-width="0.35">2015</text>
<text x="187.10" y="711.40" textLength="74.31" lengthAdjust="spacingAndGlyphs" font-family="'Liberation Sans', Arial, sans-serif" font-size="35.2" fill="#000" stroke="#fff" stroke-width="0.35">2016</text>
<text x="280.86" y="711.40" textLength="72.04" lengthAdjust="spacingAndGlyphs" font-family="'Liberation Sans', Arial, sans-serif" font-size="35.2" fill="#000" stroke="#fff" stroke-width="0.35">2017</text>
<text x="370.60" y="711.40" textLength="74.21" lengthAdjust="spacingAndGlyphs" font-family="'Liberation Sans', Arial, sans-serif" font-size="35.2" fill="#000" stroke="#fff" stroke-width="0.35">2018</text>
<text x="462.16" y="711.40" textLength="75.85" lengthAdjust="spacingAndGlyphs" font-family="'Liberation Sans', Arial, sans-serif" font-size="35.2" fill="#000" stroke="#fff" stroke-width="0.35">2019</text>
<text x="549.35" y="711.40" textLength="84.13" lengthAdjust="spacingAndGlyphs" font-family="'Liberation Sans', Arial, sans-serif" font-size="35.2" fill="#000" stroke="#fff" stroke-width="0.35">2020</text>
<text x="646.73" y="711.40" textLength="73.31" lengthAdjust="spacingAndGlyphs" font-family="'Liberation Sans', Arial, sans-serif" font-size="35.2" fill="#000" stroke="#fff" stroke-width="0.35">2021</text>
<text x="734.08" y="711.40" textLength="83.04" lengthAdjust="spacingAndGlyphs" font-family="'Liberation Sans', Arial, sans-serif" font-size="35.2" fill="#000" stroke="#fff" stroke-width="0.35">2022</text>
<text x="826.30" y="711.40" textLength="82.14" lengthAdjust="spacingAndGlyphs" font-family="'Liberation Sans', Arial, sans-serif" font-size="35.2" fill="#000" stroke="#fff" stroke-width="0.35">2023</text>
<text x="714.32" y="289.00" textLength="148.45" lengthAdjust="spacingAndGlyphs" font-family="'Liberation Sans', Arial, sans-serif" font-size="37.0" fill="#111" stroke="#fff" stroke-width="0.85">Prévisions</text>
<text x="863.83" y="442.00" textLength="114.12" lengthAdjust="spacingAndGlyphs" font-family="'Liberation Sans', Arial, sans-serif" font-size="36" font-weight="700" fill="#000" stroke="#000" stroke-width="0.35" word-spacing="-2">– 2,3 %</text>
<text x="863.83" y="522.90" textLength="114.12" lengthAdjust="spacingAndGlyphs" font-family="'Liberation Sans', Arial, sans-serif" font-size="36" font-weight="700" fill="#000" stroke="#000" stroke-width="0.35" word-spacing="-2">– 3,5 %</text>
<text x="796.63" y="612.50" textLength="114.84" lengthAdjust="spacingAndGlyphs" font-family="'Liberation Sans', Arial, sans-serif" font-size="36" font-weight="700" fill="#000" stroke="#000" stroke-width="0.35" word-spacing="-2">– 8,5 %</text>
<text x="203.15" y="503.30" textLength="295.24" lengthAdjust="spacingAndGlyphs" font-family="'Liberation Sans', Arial, sans-serif" font-size="34" fill="#000" stroke="#000" stroke-width="0.7" word-spacing="-2">Scénario d’octobre</text>
<text x="203.15" y="557.50" textLength="276.61" lengthAdjust="spacingAndGlyphs" font-family="'Liberation Sans', Arial, sans-serif" font-size="34" fill="#000" stroke="#000" stroke-width="0.7" word-spacing="-2">Scénario de juillet</text>
<text x="203.17" y="611.70" textLength="238.13" lengthAdjust="spacingAndGlyphs" font-family="'Liberation Sans', Arial, sans-serif" font-size="34" fill="#000" stroke="#000" stroke-width="0.7" word-spacing="-2">Scénario d’avril</text>
<text x="1098.93" y="313.00" textLength="31.87" lengthAdjust="spacingAndGlyphs" font-family="'Liberation Sans', Arial, sans-serif" font-size="36.2" fill="#111" stroke="#fff" stroke-width="0.85">15</text>
<text x="1098.73" y="380.00" textLength="34.51" lengthAdjust="spacingAndGlyphs" font-family="'Liberation Sans', Arial, sans-serif" font-size="36.2" fill="#111" stroke="#fff" stroke-width="0.85">10</text>
<text x="1098.72" y="448.00" textLength="21.35" lengthAdjust="spacingAndGlyphs" font-family="'Liberation Sans', Arial, sans-serif" font-size="36.2" fill="#111" stroke="#fff" stroke-width="0.85">5</text>
<text x="1099.08" y="515.00" textLength="23.41" lengthAdjust="spacingAndGlyphs" font-family="'Liberation Sans', Arial, sans-serif" font-size="36.2" fill="#111" stroke="#fff" stroke-width="0.85">0</text>
<text x="1098.68" y="585.20" textLength="19.16" lengthAdjust="spacingAndGlyphs" font-family="'Liberation Sans', Arial, sans-serif" font-size="36.2" fill="#111" stroke="#fff" stroke-width="0.85">−</text>
<text x="1122.72" y="582.70" textLength="21.35" lengthAdjust="spacingAndGlyphs" font-family="'Liberation Sans', Arial, sans-serif" font-size="36.2" fill="#111" stroke="#fff" stroke-width="0.85">5</text>
<text x="1098.68" y="653.10" textLength="19.16" lengthAdjust="spacingAndGlyphs" font-family="'Liberation Sans', Arial, sans-serif" font-size="36.2" fill="#111" stroke="#fff" stroke-width="0.85">−</text>
<text x="1123.42" y="650.60" textLength="33.25" lengthAdjust="spacingAndGlyphs" font-family="'Liberation Sans', Arial, sans-serif" font-size="36.2" fill="#111" stroke="#fff" stroke-width="0.85">10</text>
<text x="1120.11" y="711.50" textLength="73.79" lengthAdjust="spacingAndGlyphs" font-family="'Liberation Sans', Arial, sans-serif" font-size="35.2" fill="#000" stroke="#fff" stroke-width="0.35">2018</text>
<text x="1275.17" y="711.50" textLength="75.53" lengthAdjust="spacingAndGlyphs" font-family="'Liberation Sans', Arial, sans-serif" font-size="35.2" fill="#000" stroke="#fff" stroke-width="0.35">2019</text>
<text x="1424.36" y="711.50" textLength="83.60" lengthAdjust="spacingAndGlyphs" font-family="'Liberation Sans', Arial, sans-serif" font-size="35.2" fill="#000" stroke="#fff" stroke-width="0.35">2020</text>
<text x="1583.61" y="711.50" textLength="73.94" lengthAdjust="spacingAndGlyphs" font-family="'Liberation Sans', Arial, sans-serif" font-size="35.2" fill="#000" stroke="#fff" stroke-width="0.35">2021</text>
<text x="1734.28" y="711.50" textLength="83.15" lengthAdjust="spacingAndGlyphs" font-family="'Liberation Sans', Arial, sans-serif" font-size="35.2" fill="#000" stroke="#fff" stroke-width="0.35">2022</text>
<text x="1812.98" y="327.20" textLength="94.22" lengthAdjust="spacingAndGlyphs" font-family="'Liberation Sans', Arial, sans-serif" font-size="37.0" fill="#111" stroke="#fff" stroke-width="0.85">Début</text>
<text x="1813.43" y="368.20" textLength="178.92" lengthAdjust="spacingAndGlyphs" font-family="'Liberation Sans', Arial, sans-serif" font-size="37.0" fill="#111" stroke="#fff" stroke-width="0.85" word-spacing="-2">de l’invasion</text>
<text x="1813.41" y="409.60" textLength="179.64" lengthAdjust="spacingAndGlyphs" font-family="'Liberation Sans', Arial, sans-serif" font-size="37.0" fill="#111" stroke="#fff" stroke-width="0.85" word-spacing="-2">de l’ Ukraine</text>
<text x="1865.16" y="584.30" textLength="71.19" lengthAdjust="spacingAndGlyphs" font-family="'Liberation Sans', Arial, sans-serif" font-size="37.0" fill="#111" stroke="#fff" stroke-width="0.85">Août</text>
<text x="1865.80" y="613.60" textLength="106.59" lengthAdjust="spacingAndGlyphs" font-family="'Liberation Sans', Arial, sans-serif" font-size="36" font-weight="700" fill="#000" stroke="#000" stroke-width="0.35" word-spacing="-2">– 0,1 %</text>
<text x="1838.41" y="663.90" textLength="57.33" lengthAdjust="spacingAndGlyphs" font-family="'Liberation Sans', Arial, sans-serif" font-size="37.0" fill="#111" stroke="#fff" stroke-width="0.85">Juin</text>
<text x="1839.74" y="693.70" textLength="113.21" lengthAdjust="spacingAndGlyphs" font-family="'Liberation Sans', Arial, sans-serif" font-size="36" font-weight="700" fill="#000" stroke="#000" stroke-width="0.35" word-spacing="-2">– 2,4 %</text>
<text x="24.05" y="940.50" textLength="48.81" lengthAdjust="spacingAndGlyphs" font-family="'Liberation Sans', Arial, sans-serif" font-size="38.3" fill="#111" stroke="#fff" stroke-width="0.85">6,5</text>
<text x="23.59" y="1000.90" textLength="22.78" lengthAdjust="spacingAndGlyphs" font-family="'Liberation Sans', Arial, sans-serif" font-size="38.3" fill="#111" stroke="#fff" stroke-width="0.85">6</text>
<text x="25.54" y="1061.30" textLength="46.95" lengthAdjust="spacingAndGlyphs" font-family="'Liberation Sans', Arial, sans-serif" font-size="38.3" fill="#111" stroke="#fff" stroke-width="0.85">5,5</text>
<text x="25.35" y="1121.70" textLength="20.81" lengthAdjust="spacingAndGlyphs" font-family="'Liberation Sans', Arial, sans-serif" font-size="38.3" fill="#111" stroke="#fff" stroke-width="0.85">5</text>
<text x="24.05" y="1182.10" textLength="46.62" lengthAdjust="spacingAndGlyphs" font-family="'Liberation Sans', Arial, sans-serif" font-size="38.3" fill="#111" stroke="#fff" stroke-width="0.85">4,5</text>
<text x="23.94" y="1242.50" textLength="19.77" lengthAdjust="spacingAndGlyphs" font-family="'Liberation Sans', Arial, sans-serif" font-size="38.3" fill="#111" stroke="#fff" stroke-width="0.85">4</text>
<text x="24.78" y="1302.90" textLength="45.86" lengthAdjust="spacingAndGlyphs" font-family="'Liberation Sans', Arial, sans-serif" font-size="38.3" fill="#111" stroke="#fff" stroke-width="0.85">3,5</text>
<text x="90.46" y="1415.60" textLength="75.78" lengthAdjust="spacingAndGlyphs" font-family="'Liberation Sans', Arial, sans-serif" font-size="35.2" fill="#000" stroke="#fff" stroke-width="0.35">2014</text>
<text x="246.04" y="1415.60" textLength="76.82" lengthAdjust="spacingAndGlyphs" font-family="'Liberation Sans', Arial, sans-serif" font-size="35.2" fill="#000" stroke="#fff" stroke-width="0.35">2016</text>
<text x="402.44" y="1415.60" textLength="76.82" lengthAdjust="spacingAndGlyphs" font-family="'Liberation Sans', Arial, sans-serif" font-size="35.2" fill="#000" stroke="#fff" stroke-width="0.35">2018</text>
<text x="554.31" y="1415.60" textLength="85.80" lengthAdjust="spacingAndGlyphs" font-family="'Liberation Sans', Arial, sans-serif" font-size="35.2" fill="#000" stroke="#fff" stroke-width="0.35">2020</text>
<text x="712.12" y="1415.60" textLength="85.47" lengthAdjust="spacingAndGlyphs" font-family="'Liberation Sans', Arial, sans-serif" font-size="35.2" fill="#000" stroke="#fff" stroke-width="0.35">2022</text>
<text x="792.75" y="985.50" textLength="94.95" lengthAdjust="spacingAndGlyphs" font-family="'Liberation Sans', Arial, sans-serif" font-size="37.0" fill="#111" stroke="#fff" stroke-width="0.85">Début</text>
<text x="794.23" y="1026.40" textLength="178.92" lengthAdjust="spacingAndGlyphs" font-family="'Liberation Sans', Arial, sans-serif" font-size="37.0" fill="#111" stroke="#fff" stroke-width="0.85" word-spacing="-2">de l’invasion</text>
<text x="794.21" y="1068.00" textLength="179.33" lengthAdjust="spacingAndGlyphs" font-family="'Liberation Sans', Arial, sans-serif" font-size="37.0" fill="#111" stroke="#fff" stroke-width="0.85" word-spacing="-2">de l’ Ukraine</text>
<text x="826.36" y="1252.00" textLength="71.29" lengthAdjust="spacingAndGlyphs" font-family="'Liberation Sans', Arial, sans-serif" font-size="37.0" fill="#111" stroke="#fff" stroke-width="0.85">Août</text>
<text x="826.61" y="1292.90" textLength="88.83" lengthAdjust="spacingAndGlyphs" font-family="'Liberation Sans', Arial, sans-serif" font-size="36" font-weight="700" fill="#000" stroke="#000" stroke-width="0.35" word-spacing="-2">3,8 %</text>
</svg></body></html>
